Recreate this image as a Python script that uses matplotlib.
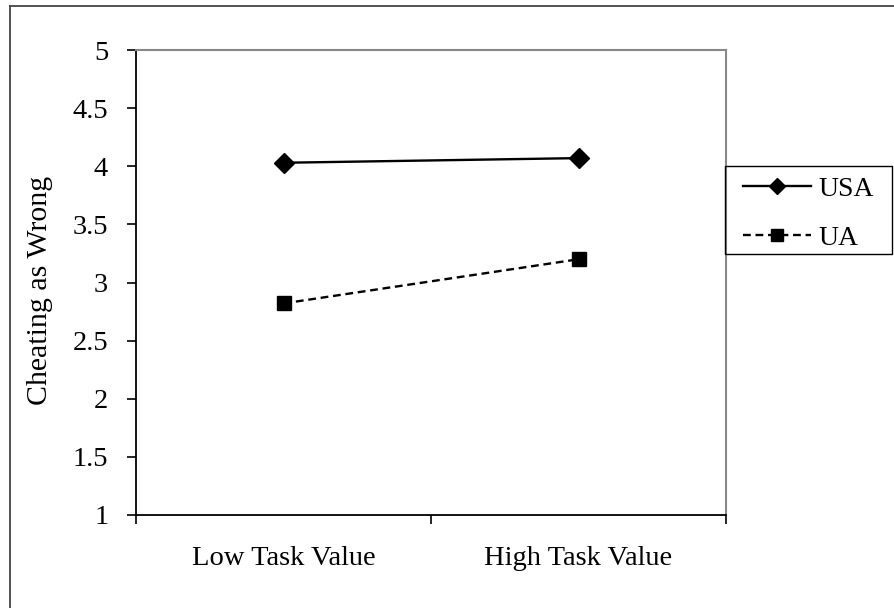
import matplotlib
matplotlib.use("Agg")
import matplotlib.pyplot as plt
from matplotlib.patches import Rectangle
from matplotlib.lines import Line2D

categories = ["Low Task Value", "High Task Value"]
series_names = ["USA", "UA"]
usa_values = [4.03, 4.07]
ua_values = [2.82, 3.20]
y_ticks = [1, 1.5, 2, 2.5, 3, 3.5, 4, 4.5, 5]
y_tick_labels = ["1", "1.5", "2", "2.5", "3", "3.5", "4", "4.5", "5"]
y_label = "Cheating as Wrong"

W, H = 894, 608
plt.rcParams["font.family"] = ["Liberation Serif", "DejaVu Serif"]
fig = plt.figure(figsize=(W / 100, H / 100), dpi=100)

def fx(px):
    return px / W

def fy(py):
    return 1 - py / H

# outer figure border (top and left visible)
fig.add_artist(Line2D([fx(10), fx(W + 5)], [fy(6), fy(6)], color="#444444", lw=1.3, transform=fig.transFigure))
fig.add_artist(Line2D([fx(10), fx(10)], [fy(6), fy(H + 5)], color="#444444", lw=1.3, transform=fig.transFigure))

left, right, top, bottom = 136, 726, 50, 515
ax = fig.add_axes([fx(left), fy(bottom), fx(right) - fx(left), fy(top) - fy(bottom)])

x = list(range(1, len(categories) + 1))
ax.plot(x, usa_values, color="black", lw=1.7, marker="D", ms=10, label=series_names[0])
ax.plot(x, ua_values, color="black", lw=1.7, ls=(0, (3.3, 2.0)), marker="s", ms=10, label=series_names[1])

ax.set_xlim(0.5, len(categories) + 0.5)
ax.set_ylim(1, 5)
ax.set_yticks(y_ticks)
ax.set_yticklabels(y_tick_labels)
ax.set_xticks(x)
ax.set_xticklabels(categories)
ax.set_xticks([0.5 + i for i in range(len(categories) + 1)], minor=True)
ax.tick_params(axis="x", which="major", length=0, pad=22, labelsize=20.5)
ax.tick_params(axis="x", which="minor", length=6.5, width=1.2, direction="out", color="black")
ax.tick_params(axis="y", which="major", length=6.5, width=1.2, direction="out", pad=13.5, labelsize=20.5, color="black")

for s in ["top", "right"]:
    ax.spines[s].set_color("#888888")
    ax.spines[s].set_linewidth(1.5)
for s in ["left", "bottom"]:
    ax.spines[s].set_color("black")
    ax.spines[s].set_linewidth(1.3)

fig.text(fx(40), fy(290), y_label, rotation=90, ha="center", va="center", fontsize=21.5)

# legend
lx0, ly0, lx1, ly1 = 725, 166, 892, 254
fig.add_artist(Rectangle((fx(lx0), fy(ly1)), fx(lx1) - fx(lx0), fy(ly0) - fy(ly1),
                         transform=fig.transFigure, fill=False, edgecolor="black", lw=1.0))
leg = ax.legend(loc="center", bbox_to_anchor=(fx((lx0 + lx1) / 2), fy((ly0 + ly1) / 2 + 3.5)),
                bbox_transform=fig.transFigure, frameon=False, fontsize=20,
                handlelength=2.45, handletextpad=0.25, labelspacing=0.85, borderpad=0.2,
                markerscale=0.85)

fig.savefig("out.png", dpi=100)
